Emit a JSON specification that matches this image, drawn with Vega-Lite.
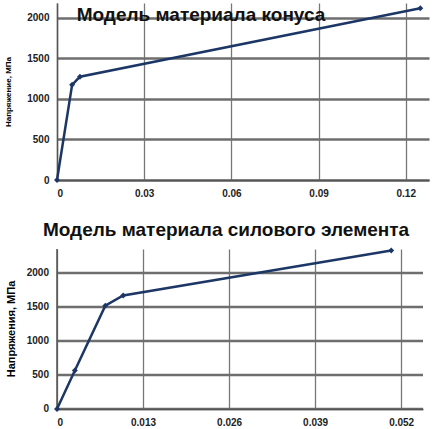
{
  "$schema": "https://vega.github.io/schema/vega-lite/v6.json",
  "background": "white",
  "padding": {"left": 4, "top": 3, "right": 7, "bottom": 2},
  "spacing": 22,
  "config": {
    "font": "Liberation Sans",
    "axis": {"labelFont": "Liberation Sans", "labelFontWeight": "bold", "labelColor": "#222", "domainColor": "#555", "domainWidth": 1.5, "tickColor": "#555", "labelPadding": 8},
    "view": {"stroke": null},
    "title": {"font": "Liberation Sans", "fontWeight": "bold", "color": "#111"}
  },
  "datasets": {
    "kon": [
      {"strain": 0, "stress": 0},
      {"strain": 0.0052, "stress": 1175},
      {"strain": 0.0079, "stress": 1275},
      {"strain": 0.125, "stress": 2120}
    ],
    "sil": [
      {"strain": 0, "stress": 0},
      {"strain": 0.0027, "stress": 565},
      {"strain": 0.0073, "stress": 1520},
      {"strain": 0.0100, "stress": 1670},
      {"strain": 0.0505, "stress": 2330}
    ]
  },
  "vconcat": [
    {
      "width": 372,
      "height": 177,
      "title": {"text": "Модель материала конуса", "fontSize": 19, "offset": -22, "anchor": "middle", "dx": -42},
      "data": {"name": "kon"},
      "mark": {"type": "line", "color": "#1c3766", "strokeWidth": 2.5, "point": {"shape": "diamond", "size": 35, "filled": true, "color": "#1c3766"}},
      "encoding": {
        "x": {"field": "strain", "type": "quantitative", "scale": {"domain": [0, 0.128], "nice": false}, "axis": {"title": null, "values": [0, 0.03, 0.06, 0.09, 0.12], "format": ".2~f", "labelFontSize": 10, "tickSize": 0, "gridColor": "#777", "gridWidth": 1.3}},
        "y": {"field": "stress", "type": "quantitative", "scale": {"domain": [0, 2185], "nice": false}, "axis": {"title": "Напряжение, МПа", "titleFontSize": 8, "titleFontWeight": "bold", "titlePadding": 14, "values": [0, 500, 1000, 1500, 2000], "format": "d", "labelFontSize": 10, "tickSize": 0, "gridColor": "#6e6e6e", "gridWidth": 2.5}}
      }
    },
    {
      "width": 366,
      "height": 160,
      "title": {"text": "Модель материала силового элемента", "fontSize": 19, "offset": 6, "anchor": "middle", "dx": -14},
      "data": {"name": "sil"},
      "mark": {"type": "line", "color": "#1c3766", "strokeWidth": 2.5, "point": {"shape": "diamond", "size": 35, "filled": true, "color": "#1c3766"}},
      "encoding": {
        "x": {"field": "strain", "type": "quantitative", "scale": {"domain": [0, 0.0553], "nice": false}, "axis": {"title": null, "values": [0, 0.013, 0.026, 0.039, 0.052], "format": ".3~f", "labelFontSize": 10, "tickSize": 0, "gridColor": "#777", "gridWidth": 1.3}},
        "y": {"field": "stress", "type": "quantitative", "scale": {"domain": [0, 2352.9], "nice": false}, "axis": {"title": "Напряжения, МПа", "titleFontSize": 11, "titleFontWeight": "bold", "titlePadding": 10, "values": [0, 500, 1000, 1500, 2000], "format": "d", "labelFontSize": 10, "tickSize": 0, "translate": 0, "gridColor": "#6e6e6e", "gridWidth": 2.5}}
      }
    }
  ]
}
